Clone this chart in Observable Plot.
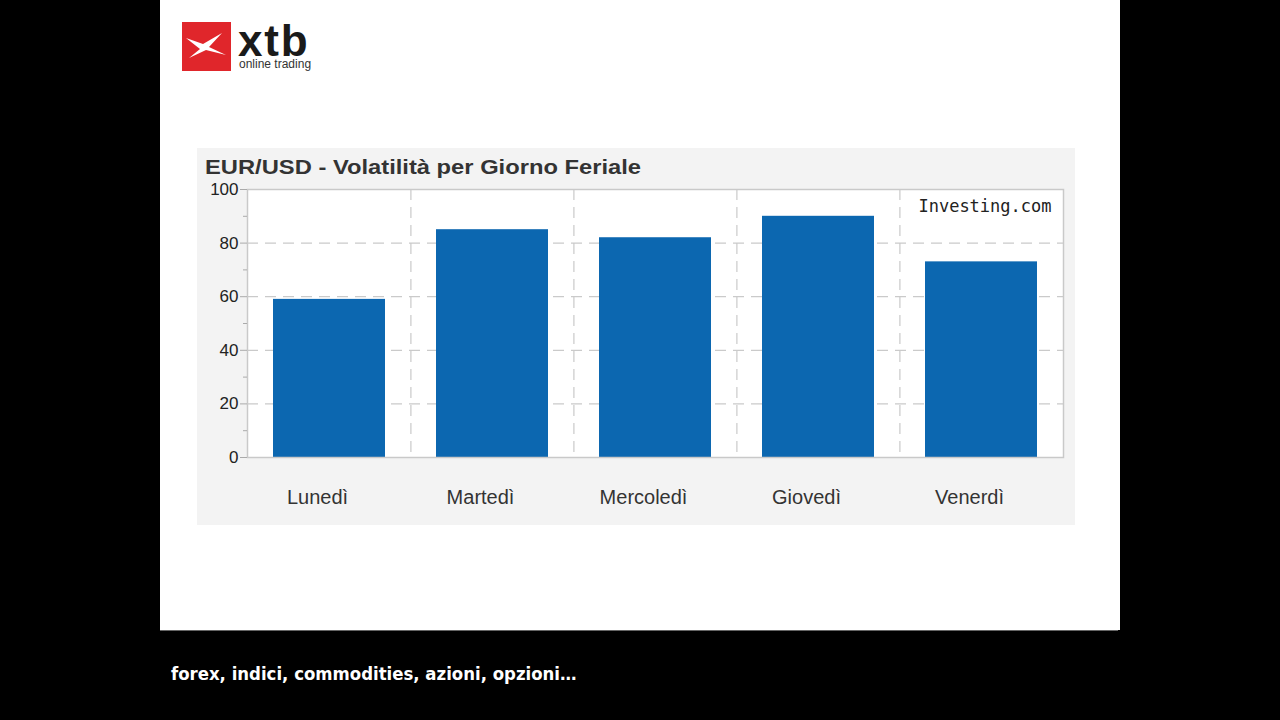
<!DOCTYPE html>
<html>
<head>
<meta charset="utf-8">
<script src="https://cdn.jsdelivr.net/npm/d3@7"></script>
<script src="https://cdn.jsdelivr.net/npm/@observablehq/plot@0.6"></script>
<style>
  html, body { margin: 0; padding: 0; background: #000; width: 1280px; height: 720px; overflow: hidden; font-family: "Liberation Sans", Arial, sans-serif; }
  #slide { position: absolute; left: 160px; top: 0; width: 960px; height: 630px; background: #fff; }
  #band { position: absolute; left: 160px; top: 630px; width: 958px; height: 90px; background: #000; border-top: 1px solid #666; }
  #caption { position: absolute; left: 171px; top: 663px; color: #fff; font: bold 18.4px "DejaVu Sans Condensed", "DejaVu Sans", Verdana, sans-serif; white-space: nowrap; }
  #panel { position: absolute; left: 197px; top: 148px; width: 878px; height: 377px; background: #f3f3f3; }
  #title { position: absolute; left: 205px; top: 155px; font: bold 21px "Liberation Sans", Arial, sans-serif; color: #333; transform: scaleX(1.13); transform-origin: left center; white-space: nowrap; line-height: 24px; }
  #chart { position: absolute; left: 197px; top: 180px; }
  #logo { position: absolute; left: 182px; top: 22px; }
  #xtb { position: absolute; left: 238px; top: 26px; font: bold 44px "Liberation Sans", Arial, sans-serif; color: #1a1a1a; letter-spacing: 1.8px; line-height: 0.68; }
  #ot { position: absolute; left: 239px; top: 59px; font: 12px "Liberation Sans", Arial, sans-serif; color: #333; line-height: 10px; }
</style>
</head>
<body>
<div id="slide"></div>
<svg id="logo" width="49" height="49" viewBox="0 0 49 49">
  <rect width="49" height="49" fill="#e0262b"/>
  <polygon points="4,16 21,22 40,11 27,25 44,33 24,28 7,36 18,27" fill="#fff"/>
</svg>
<div id="xtb">xtb</div>
<div id="ot">online trading</div>
<div id="panel"></div>
<div id="title">EUR/USD - Volatilità per Giorno Feriale</div>
<div id="chart"></div>
<div id="band"></div>
<div id="caption">forex, indici, commodities, azioni, opzioni…</div>
<script>
const days = ["Lunedì", "Martedì", "Mercoledì", "Giovedì", "Venerdì"];
const volatility = [59, 85, 82, 90, 73];
const majorTicks = [0, 20, 40, 60, 80, 100];
const minorTicks = [10, 30, 50, 70, 90];
const gridTicks = [20, 40, 60, 80];
const sourceLabel = "Investing.com";

const data = days.map((d, i) => ({day: d, value: volatility[i]}));

const width = 878, height = 345;
const marginLeft = 50, marginRight = 12, marginTop = 9, marginBottom = 68;
const paddingInner = 0.31;
const paddingOuter = paddingInner / 2;
const step = (width - marginLeft - marginRight) / (days.length - paddingInner + 2 * paddingOuter);

const chart = Plot.plot({
  width, height, marginLeft, marginRight, marginTop, marginBottom,
  style: {background: "transparent", fontFamily: "Liberation Sans, Arial, sans-serif", color: "#333"},
  x: {domain: days, paddingInner, paddingOuter, label: null},
  y: {domain: [0, 100], label: null},
  marks: [
    Plot.frame({fill: "#fff", stroke: "none"}),
    Plot.ruleY(gridTicks, {stroke: "#cacaca", strokeWidth: 1.2, strokeDasharray: "11,7"}),
    Plot.ruleX(days.slice(1), {x: d => d, dx: -step / 2, stroke: "#cacaca", strokeWidth: 1.2, strokeDasharray: "11,7"}),
    Plot.barY(data, {x: "day", y: "value", fill: "#0c67b0"}),
    Plot.frame({stroke: "#c9c9c9", strokeWidth: 1.5}),
    Plot.axisY(majorTicks, {tickSize: 7, tickPadding: 2, fontSize: 17, fill: "#222", stroke: "#aaa", letterSpacing: "-1px"}),
    Plot.axisY(minorTicks, {tickSize: 4, stroke: "#aaa", tickFormat: () => ""}),
    Plot.axisX({tickSize: 0, tickPadding: 32, fontSize: 20, fill: "#333", dx: -12}),
    Plot.text([sourceLabel], {frameAnchor: "top-right", text: d => d, dx: -12, dy: 10, fontFamily: "DejaVu Sans Mono, monospace", fontSize: 17, fill: "#222"})
  ]
});
document.getElementById("chart").appendChild(chart);
</script>
</body>
</html>
